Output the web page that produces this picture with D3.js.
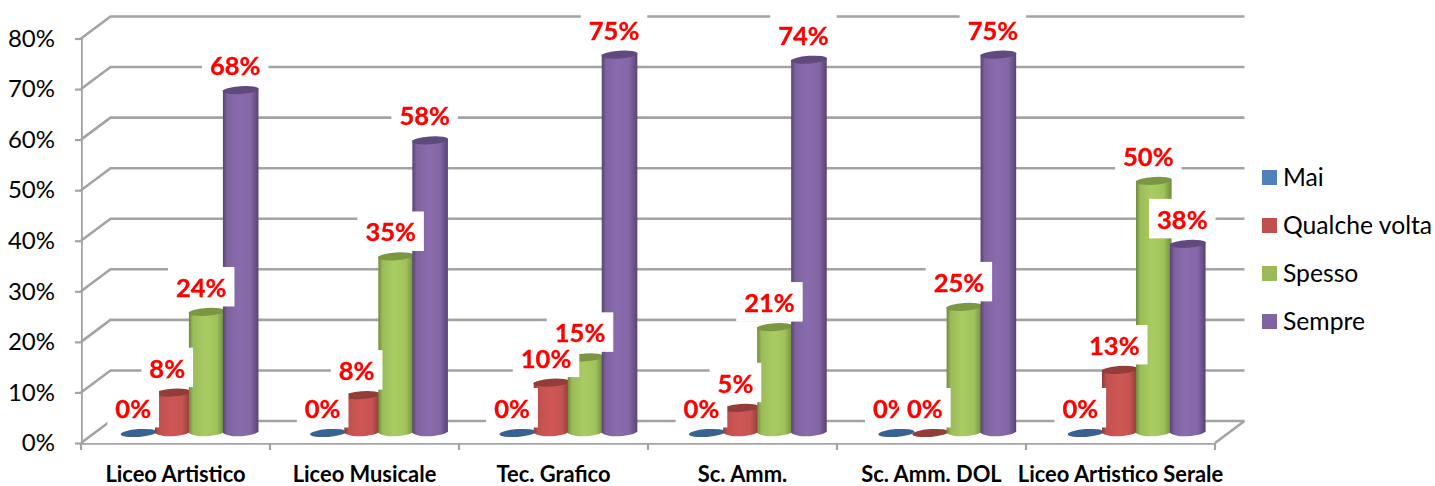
<!DOCTYPE html>
<html><head><meta charset="utf-8">
<script src="https://cdn.jsdelivr.net/npm/d3@7"></script>
<style>html,body{margin:0;padding:0;background:#fff}svg{display:block}text{font-family:Lato,"Open Sans",sans-serif}</style>
</head><body><svg id="c" width="1435" height="486"></svg>
<script>
const categories=["Liceo Artistico","Liceo Musicale","Tec. Grafico","Sc. Amm.","Sc. Amm. DOL","Liceo Artistico Serale"];
const seriesNames=["Mai","Qualche volta","Spesso","Sempre"];
const mai=[0,0,0,0,0,0];
const qualcheVolta=[0.08,0.075,0.10,0.05,0,0.125];
const spesso=[0.24,0.35,0.15,0.21,0.25,0.50];
const sempre=[0.68,0.58,0.75,0.74,0.75,0.375];
const seriesValues=[mai,qualcheVolta,spesso,sempre];
const yTicks=[0,.1,.2,.3,.4,.5,.6,.7,.8];
const base=["#4F81BD","#C0504D","#9BBB59","#8064A2"];
const edge=["#345a86","#8f3a38","#6f8a3c","#584472"];
const mid=["#5a90d0","#cf5755","#a9cc62","#8a6cae"];
const topc=["#386291","#933c3a","#7b9743","#5f4a7d"];

const svg=d3.select("#c");
const defs=svg.append("defs");
defs.append("filter").attr("id","soft")
  .attr("filterUnits","userSpaceOnUse").attr("x",0).attr("y",0).attr("width",1435).attr("height",486)
  .append("feGaussianBlur").attr("stdDeviation",0.55);
base.forEach((c,i)=>{
  const g=defs.append("linearGradient").attr("id","g"+i);
  [[0,edge[i]],[.12,d3.interpolateRgb(edge[i],mid[i])(.75)],[.45,mid[i]],[.78,d3.interpolateRgb(edge[i],mid[i])(.85)],[1,edge[i]]]
   .forEach(s=>g.append("stop").attr("offset",s[0]).attr("stop-color",s[1]));
});

const depthX=29.5, depthY=22;
const y=d3.scaleLinear().domain([0,.8]).range([443,38.5]);
const x=d3.scaleBand().domain(categories).range([81,1215]);
const yBar=d3.scaleLinear().domain([0,.8]).range([433,29.5]);
const xBar=d3.scaleBand().domain(categories).range([95,1231.5]);
const xS=d3.scaleBand().domain(d3.range(4)).range([-68,68]);
const gridCol="#a3a3a3";

// walls
const grid=svg.append("g").attr("filter","url(#soft)").attr("fill","none").attr("stroke",gridCol).attr("stroke-width",2.6);
grid.selectAll("path.g").data(yTicks).join("path").attr("class","g")
  .attr("d",t=>{const p=d3.path();p.moveTo(81,y(t));p.lineTo(81+depthX,y(t)-depthY);p.lineTo(1215+depthX,y(t)-depthY);return p;});
grid.append("path").attr("d",()=>{const p=d3.path();p.moveTo(1215,y(0));p.lineTo(1215+depthX,y(0)-depthY);return p;});

// axes
const yAxis=d3.axisLeft(y).tickValues(yTicks).tickFormat(d3.format(".0%")).tickSize(6).tickPadding(20);
const gy=svg.append("g").attr("transform","translate(81,0)").call(yAxis);
gy.select(".domain").attr("stroke",gridCol).attr("stroke-width",2.6).attr("filter","url(#soft)");
gy.selectAll("line").attr("stroke",gridCol).attr("stroke-width",2.2);
gy.selectAll("text").attr("font-size",24).attr("fill","#000").attr("font-family","Lato");
const xAxis=d3.axisBottom(x).tickSize(0).tickPadding(23.5);
const gx=svg.append("g").attr("transform","translate(0,443)").call(xAxis);
gx.select(".domain").attr("stroke",gridCol).attr("stroke-width",2.6).attr("filter","url(#soft)");
gx.selectAll("text").attr("font-size",21.9).attr("font-weight",700).attr("fill","#000").attr("font-family","Lato");
const tickXs=categories.map(c=>x(c)).concat([x.range()[1]]);
gx.selectAll("line.t").data(tickXs).join("line").attr("class","t").attr("x1",d=>d).attr("x2",d=>d).attr("y1",0).attr("y2",7)
  .attr("stroke",gridCol).attr("stroke-width",2.2);

// cylinders
const rx=17.8, ry=3.9, tilt=-4;
const rows=[];
categories.forEach((c,ci)=>seriesValues.forEach((vals,si)=>rows.push({c,si,v:vals[ci],cx:xBar(c)+xBar.bandwidth()/2+xS(si)+xS.bandwidth()/2})));
const bars=svg.append("g").attr("filter","url(#soft)");
rows.forEach(d=>{
  const g=bars.append("g"), top=yBar(d.v), bot=yBar(0);
  if(d.v>0){
    const p=d3.path();
    p.moveTo(d.cx-rx,top);p.lineTo(d.cx-rx,bot);
    p.bezierCurveTo(d.cx-rx*.6,bot+ry*1.35,d.cx+rx*.6,bot+ry*1.0,d.cx+rx,bot-1.2);
    p.lineTo(d.cx+rx,top-1.2);p.closePath();
    g.append("path").attr("d",p).attr("fill",`url(#g${d.si})`);
  }
  g.append("ellipse").attr("cx",d.cx).attr("cy",top).attr("rx",rx+.3).attr("ry",ry)
    .attr("transform",`rotate(${tilt} ${d.cx} ${top})`).attr("fill",topc[d.si]);
});

// data labels: Mai labels first, then the other boxes, then their texts
const fmt=d3.format(".0%");
const labels=svg.append("g");
function drawLabels(list){
  const texts=list.map(d=>{
    const lx=d.cx-5.5, ly=yBar(d.v)-24;
    const r=labels.append("rect").attr("fill","#fff");
    const probe=labels.append("text").attr("font-size",25.5).attr("font-weight",700).text(fmt(d.v));
    const w=probe.node().getComputedTextLength()+16;
    probe.remove();
    r.attr("x",lx-w/2).attr("y",ly-21).attr("width",w).attr("height",39.5);
    return {d,lx,ly};
  });
  texts.forEach(o=>labels.append("text").attr("x",o.lx).attr("y",o.ly+9).attr("text-anchor","middle")
      .attr("font-size",25.5).attr("font-weight",700).attr("fill","#ff0000")
      .attr("stroke","#ff0000").attr("stroke-width",0.35).text(fmt(o.d.v)));
}
drawLabels(rows.filter(r=>r.si===0));
drawLabels(rows.filter(r=>r.si>0));

// legend
const leg=svg.append("g").selectAll("g").data(seriesNames).join("g")
  .attr("transform",(d,i)=>`translate(1262,${170+i*48})`);
leg.append("rect").attr("width",15).attr("height",15).attr("fill",(d,i)=>base[i]);
leg.append("text").attr("x",21).attr("y",16).attr("font-size",24.7).attr("fill","#000").text(d=>d);
</script></body></html>
